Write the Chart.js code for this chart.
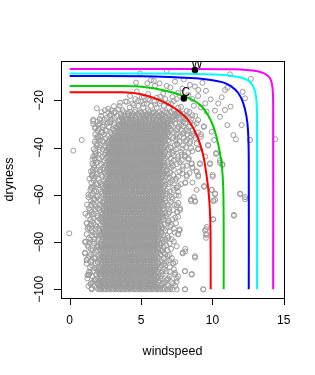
<!DOCTYPE html>
<html>
<head>
<meta charset="utf-8">
<script src="https://cdn.jsdelivr.net/npm/chart.js@4/dist/chart.umd.min.js"></script>
<style>
  html, body { margin: 0; padding: 0; background: #fff; }
  canvas { display: block; }
</style>
</head>
<body>
<canvas id="chart" width="315" height="375"></canvas>
<script>
// axis ticks and titles
const xTicks = [0, 5, 10, 15];
const yTicks = [-100, -80, -60, -40, -20];
const xTitle = 'windspeed';
const yTitle = 'dryness';

// marked points
const markLabels = ['W', 'C'];
const markWind = [8.78, 8.0];
const markDry = [-7.2, -19.2];

// contour curves (windspeed / dryness pairs)
const curveColors = ['#ff0000', '#00cd00', '#0000ff', '#00ffff', '#ff00ff'];
const redWind = [0, 3.6, 4.3, 5.0, 5.6, 6.3, 7.0, 7.6, 8.1, 8.45, 8.75, 9.05, 9.35, 9.55, 9.72, 9.82, 9.87, 9.88];
const redDry = [-16.6, -16.6, -16.8, -17.4, -18.4, -19.9, -22.0, -24.4, -27.0, -29.6, -32.8, -37.0, -43.0, -50.0, -58.0, -66.0, -76.0, -100];
const greenWind = [0, 3.6, 4.7, 5.6, 6.3, 7.0, 7.7, 8.3, 8.75, 9.1, 9.5, 9.85, 10.15, 10.42, 10.65, 10.76, 10.79, 10.79];
const greenDry = [-13.95, -13.95, -14.1, -14.7, -15.4, -16.4, -17.6, -19.0, -20.3, -21.8, -24.5, -28.0, -32.5, -39.0, -47.0, -57.0, -70.0, -100];
const blueWind = [0, 5, 7, 8.5, 9.5, 10.3, 10.8, 11.3, 11.8, 12.15, 12.38, 12.5, 12.55, 12.55];
const blueDry = [-9.7, -9.8, -10.1, -10.6, -11.1, -11.8, -12.5, -14.0, -16.8, -21.0, -26.5, -33.0, -45.0, -100];
const cyanWind = [0, 6, 9, 10.5, 11.5, 12.1, 12.5, 12.8, 13.0, 13.1, 13.13, 13.13];
const cyanDry = [-8.7, -8.7, -8.9, -9.2, -9.8, -10.6, -11.6, -13.5, -16.5, -21.0, -28.0, -100];
const magentaWind = [0, 8, 11.5, 12.6, 13.3, 13.8, 14.1, 14.22, 14.26, 14.26];
const magentaDry = [-6.75, -6.8, -6.9, -7.3, -7.9, -9.2, -11.5, -15.0, -21.0, -100];

// scattered observations outside the dense column
const looseWind = [0.84, 0.25, -0.03, 1.9, 2.47, 2.7, 2.94, 3.41, 3.53, 4.0, 3.1, 4.5, 4.8, 5.2, 5.6, 6.0, 6.4, 6.9, 7.3,
  4.23, 4.7, 5.05, 5.5, 6.1, 6.55, 7.2, 7.6, 8.3, 8.6, 9.0, 9.88, 10.65, 9.5, 10.41, 9.2, 8.7, 7.8, 8.2, 7.5, 8.0, 8.6,
  9.0, 9.6, 10.18, 10.88, 11.28, 10.53, 9.4, 9.95, 10.12, 11.05, 12.05, 11.47, 11.65, 12.64, 14.4, 12.29, 12.12, 11.05,
  10.89, 9.55, 9.01, 8.78, 8.43, 7.9, 7.38, 7.05, 6.8, 6.3, 5.98, 5.7, 5.44, 4.65, 5.9, 4.93, 6.8, 11.23, 12.7, 8.0, 9.3,
  8.08, 8.55, 8.9, 9.01, 8.2, 8.1, 7.6, 7.73, 8.5, 8.78, 9.95, 10.2, 9.13, 9.83, 10.53, 10.7, 10.26, 10.02, 9.42, 10.19,
  10.07, 11.94, 12.29, 11.51, 10.06, 9.55, 9.55, 8.78, 8.55, 9.36, 8.08, 8.08, 7.5, 7.38, 7.92, 8.1, 7.26, 7.6, 7.7, 7.54,
  8.6, 7.9, 8.4, 9.0, 8.7, 9.2, 8.3, 9.7, 1.07, 1.19, 1.31, 1.24, 1.54, 1.19, 1.6, 1.55, 1.3, 1.1, 1.07, 1.65, 1.78, 2.13, 1.65];
const looseDry = [-36.8, -41.3, -76.3, -23.4, -24.2, -23.6, -24.4, -23.8, -21.0, -20.6, -22.5, -22.0, -20.2, -21.5, -20.0, -21.8, -20.5, -21.2, -20.3,
  -18.2, -16.3, -18.8, -17.4, -18.9, -17.2, -18.6, -16.9, -17.8, -19.5, -18.2, -19.6, -18.7, -21.3, -21.3, -23.0, -22.3, -22.8, -24.5, -25.5, -27.0, -26.3,
  -28.4, -24.8, -24.4, -24.1, -22.7, -27.0, -31.0, -33.3, -36.8, -30.5, -30.5, -34.7, -36.5, -36.8, -36.5, -19.2, -16.4, -14.7,
  -15.6, -16.0, -15.6, -14.2, -13.5, -15.0, -12.1, -14.6, -13.9, -12.8, -13.9, -11.5, -12.8, -12.5, -11.7, -8.6, -7.5, -9.0, -10.9, -11.2, -12.6,
  -43.2, -46.7, -50.2, -52.3, -52.3, -55.0, -58.7, -66.4, -62.0, -62.9, -58.0, -62.2, -46.7, -46.7, -46.4, -47.4, -42.7, -52.3, -56.6, -59.7,
  -62.5, -59.7, -61.9, -68.5, -70.4, -74.6, -77.0, -86.6, -93.5, -100, -92.3, -100, -96.8, -93.0, -84.8, -84.0, -89.0, -76.6, -74.6, -67.2,
  -48.5, -40.5, -38.2, -40.5, -35.0, -35.5, -33.0, -39.0, -84.8, -87.6, -94.0, -94.0, -99.6, -72.0, -45.0, -52.0, -60.0, -68.0, -80.0, -30.0, -31.9, -35.4, -28.8];

// thinner fringe on both sides of the column and over its top
const edgeDry = [-97.5, -95.8, -94.5, -92.5, -91.0, -90.0, -88.5, -86.8, -85.5, -83.5, -82.0, -81.8, -80.4, -78.8, -77.2,
  -75.5, -74.4, -72.5, -70.8, -70.0, -69.3, -68.4, -67.8, -66.0, -64.4, -63.0, -62.0, -61.5, -60.4, -58.4, -57.0,
  -55.5, -54.0, -53.0, -52.7, -51.0, -49.4, -48.0, -46.5, -45.0, -44.5, -43.3, -42.8, -41.8, -41.0, -40.2, -38.7,
  -37.2, -35.7, -34.2, -33.5, -32.6, -31.0, -30.5, -29.3, -27.9, -26.8, -26.3, -25.3, -24.2, -23.1, -22.4, -21.4,
  -20.5, -19.5, -18.5];
const edgeWind = [
  [1.5, 1.95, 6.55, 7.25], [1.75, 6.85], [6.4, 7.6], [1.35, 2.0, 6.5, 7.0], [1.72], [6.7], [1.5, 1.98, 6.35, 7.4],
  [1.28, 1.8, 6.6], [7.0], [1.62, 6.5, 6.85], [1.9], [7.5], [1.38, 6.45], [1.72, 6.7, 7.15], [1.55, 2.05, 6.55],
  [7.0], [1.25, 1.82, 6.45, 7.3], [1.5, 6.65], [6.9], [1.7, 2.15], [6.55, 7.6], [1.55], [6.7], [1.8, 6.95],
  [1.5, 2.1, 6.6, 7.5], [7.1], [1.68], [6.7], [1.95, 7.0, 7.65], [1.72, 6.8], [1.5, 7.25],
  [1.85, 2.28, 6.9], [7.4], [1.7], [7.0], [1.9, 6.85, 7.9], [1.62, 2.15, 7.3], [6.9, 7.95], [1.85, 7.15], [7.6, 8.3],
  [2.05], [7.3], [1.78], [7.8], [2.1], [7.1, 8.5], [1.95, 7.55],
  [2.3, 8.1], [1.88, 7.5], [7.9, 8.6], [2.2], [2.5, 7.45], [8.0], [2.0], [2.35, 2.8, 7.7, 8.45],
  [2.1, 8.1], [3.6, 4.4, 5.35, 6.3, 7.25], [7.6], [3.1, 4.1, 5.0, 5.85, 6.8, 7.7], [3.7, 4.6, 5.5, 6.5, 7.3],
  [4.2, 5.15, 6.1, 6.95, 7.6], [3.5, 4.8, 5.7, 6.6], [4.4, 5.4, 6.3, 7.1],
  [3.9, 5.0, 5.95], [4.6, 5.5, 6.7, 7.5], [5.2, 6.35]
];

// dense column: one dryness level per row with the windspeeds seen on it
const rowDry = [-100, -98.6, -97.0, -95.4, -93.8, -92.3, -90.7, -89.1, -87.6, -86.0, -84.5, -82.9, -81.4, -79.8, -78.2,
  -76.7, -75.1, -73.6, -72.0, -70.4, -68.9, -67.3, -65.7, -64.2, -62.6, -61.0, -59.5, -57.9, -56.3, -54.8, -53.2,
  -51.6, -50.1, -48.5, -47.0, -45.4, -43.8, -42.3, -40.7, -39.1, -37.6, -36.0, -34.4, -32.9, -31.3, -29.7, -28.2, -26.6, -25.0];
const rowWind = [
  [1.54, 2.0, 2.16, 2.35, 2.52, 2.7, 2.89, 3.06, 3.25, 3.42, 3.61, 3.78, 3.97, 4.14, 4.33, 4.5, 4.69, 4.86, 5.05, 5.22, 5.41, 5.58, 5.77, 5.94, 6.13, 6.3, 6.49, 6.66, 6.85, 7.02, 7.21, 7.5, 8.08, 9.36],
  [1.31, 1.72, 2.12, 2.31, 2.58, 2.77, 3.05, 3.22, 3.47, 3.66, 3.92, 4.08, 4.35, 4.51, 4.79, 4.97, 5.18, 5.44, 5.62, 5.9, 6.05, 6.41, 6.93, 7.4],
  [1.62, 2.04, 2.25, 2.5, 2.68, 2.95, 3.13, 3.39, 3.55, 3.81, 4.0, 4.21, 4.47, 4.64, 4.9, 5.07, 5.33, 5.5, 5.77, 5.95, 6.22, 6.68, 7.13],
  [1.24, 1.95, 2.19, 2.43, 2.61, 2.86, 3.09, 3.27, 3.52, 3.7, 3.96, 4.14, 4.38, 4.59, 4.8, 5.04, 5.21, 5.47, 5.66, 5.88, 6.12, 6.37, 6.9, 7.5],
  [1.35, 1.86, 2.1, 2.36, 2.53, 2.8, 2.98, 3.22, 3.43, 3.63, 3.88, 4.06, 4.3, 4.49, 4.74, 4.93, 5.15, 5.39, 5.57, 5.83, 6.01, 6.52, 7.38, 8.55],
  [1.66, 2.23, 2.47, 2.66, 2.91, 3.1, 3.35, 3.53, 3.78, 3.97, 4.21, 4.4, 4.65, 4.83, 5.08, 5.27, 5.51, 5.7, 5.94, 6.16, 6.79, 8.08],
  [1.43, 1.99, 2.17, 2.42, 2.6, 2.85, 3.04, 3.28, 3.47, 3.72, 3.9, 4.15, 4.34, 4.58, 4.77, 5.02, 5.2, 5.45, 5.64, 5.88, 6.07, 6.31, 7.02],
  [1.19, 1.81, 2.31, 2.5, 2.74, 2.94, 3.18, 3.37, 3.61, 3.8, 4.05, 4.24, 4.48, 4.67, 4.92, 5.11, 5.35, 5.54, 5.78, 5.97, 6.22, 6.63, 7.26],
  [1.19, 1.56, 2.13, 2.37, 2.56, 2.8, 3.0, 3.24, 3.43, 3.67, 3.86, 4.1, 4.3, 4.54, 4.73, 4.97, 5.16, 5.41, 5.6, 5.84, 6.03, 6.45, 6.96],
  [1.38, 2.02, 2.24, 2.43, 2.68, 2.87, 3.11, 3.3, 3.54, 3.74, 3.98, 4.17, 4.41, 4.6, 4.85, 5.04, 5.28, 5.47, 5.71, 5.9, 6.14, 6.86, 8.78],
  [1.07, 1.7, 2.29, 2.49, 2.72, 2.92, 3.16, 3.35, 3.59, 3.78, 4.03, 4.22, 4.46, 4.65, 4.89, 5.09, 5.33, 5.52, 5.76, 5.95, 6.19, 6.58, 7.92],
  [1.48, 2.07, 2.31, 2.52, 2.76, 2.95, 3.19, 3.38, 3.62, 3.82, 4.06, 4.25, 4.49, 4.68, 4.92, 5.12, 5.36, 5.55, 5.79, 5.98, 6.22, 7.1, 8.1],
  [1.25, 1.95, 2.18, 2.4, 2.63, 2.83, 3.07, 3.26, 3.5, 3.69, 3.93, 4.13, 4.37, 4.56, 4.8, 4.99, 5.23, 5.43, 5.67, 5.86, 6.1, 6.36, 6.78],
  [1.12, 1.62, 2.26, 2.47, 2.7, 2.9, 3.14, 3.33, 3.57, 3.76, 4.0, 4.2, 4.44, 4.63, 4.87, 5.06, 5.3, 5.5, 5.74, 5.93, 6.17, 6.6, 7.3],
  [1.35, 2.04, 2.34, 2.54, 2.77, 2.97, 3.21, 3.4, 3.64, 3.83, 4.07, 4.27, 4.51, 4.7, 4.94, 5.13, 5.37, 5.57, 5.81, 6.0, 6.24, 6.92, 9.55],
  [1.19, 1.78, 2.21, 2.44, 2.64, 2.88, 3.07, 3.31, 3.51, 3.74, 3.94, 4.18, 4.37, 4.61, 4.81, 5.04, 5.24, 5.48, 5.67, 5.91, 6.11, 6.4, 7.6, 9.6],
  [1.52, 2.12, 2.36, 2.56, 2.79, 2.99, 3.23, 3.42, 3.66, 3.86, 4.09, 4.29, 4.53, 4.72, 4.96, 5.16, 5.39, 5.59, 5.83, 6.02, 6.26, 6.7, 7.7, 9.48],
  [1.3, 1.88, 2.28, 2.52, 2.71, 2.95, 3.15, 3.38, 3.58, 3.82, 4.01, 4.25, 4.45, 4.68, 4.88, 5.12, 5.31, 5.55, 5.75, 5.98, 6.18, 6.48, 7.05, 9.6],
  [1.19, 1.66, 2.39, 2.59, 2.82, 3.02, 3.26, 3.45, 3.69, 3.89, 4.12, 4.32, 4.56, 4.75, 4.99, 5.19, 5.42, 5.62, 5.86, 6.05, 6.29, 6.88, 7.45],
  [1.45, 2.1, 2.33, 2.53, 2.76, 2.96, 3.2, 3.39, 3.63, 3.83, 4.06, 4.26, 4.5, 4.69, 4.93, 5.13, 5.36, 5.56, 5.8, 5.99, 6.23, 6.55, 7.2, 10.06],
  [1.28, 1.92, 2.43, 2.62, 2.86, 3.06, 3.29, 3.49, 3.73, 3.92, 4.16, 4.36, 4.59, 4.79, 5.03, 5.22, 5.46, 5.66, 5.89, 6.09, 6.33, 6.76, 11.51],
  [1.55, 2.2, 2.46, 2.65, 2.89, 3.09, 3.32, 3.52, 3.76, 3.95, 4.19, 4.39, 4.62, 4.82, 5.06, 5.25, 5.49, 5.69, 5.92, 6.12, 6.36, 7.0, 7.54],
  [1.35, 1.98, 2.38, 2.58, 2.81, 3.01, 3.25, 3.44, 3.68, 3.88, 4.11, 4.31, 4.55, 4.74, 4.98, 5.18, 5.41, 5.61, 5.85, 6.04, 6.28, 6.6, 7.73],
  [1.22, 1.75, 2.49, 2.69, 2.92, 3.12, 3.36, 3.55, 3.79, 3.99, 4.22, 4.42, 4.66, 4.85, 5.09, 5.29, 5.52, 5.72, 5.96, 6.15, 6.39, 6.95, 7.35],
  [1.5, 2.15, 2.41, 2.61, 2.84, 3.04, 3.28, 3.47, 3.71, 3.91, 4.14, 4.34, 4.58, 4.77, 5.01, 5.21, 5.44, 5.64, 5.88, 6.07, 6.31, 6.7, 8.5, 8.78, 10.07],
  [1.32, 1.9, 2.53, 2.72, 2.96, 3.16, 3.39, 3.59, 3.83, 4.02, 4.26, 4.46, 4.69, 4.89, 5.13, 5.32, 5.56, 5.76, 5.99, 6.19, 6.43, 7.15, 8.7, 12.29],
  [1.62, 2.28, 2.51, 2.7, 2.94, 3.14, 3.37, 3.57, 3.81, 4.0, 4.24, 4.44, 4.67, 4.87, 5.11, 5.3, 5.54, 5.74, 5.97, 6.17, 6.41, 6.82, 10.19, 11.94],
  [1.45, 2.05, 2.57, 2.79, 2.98, 3.22, 3.41, 3.66, 3.84, 4.09, 4.27, 4.53, 4.71, 4.95, 5.14, 5.39, 5.57, 5.82, 6.0, 6.25, 6.47, 7.3, 8.9, 9.95],
  [1.7, 2.3, 2.49, 2.71, 2.93, 3.12, 3.36, 3.57, 3.77, 4.02, 4.2, 4.44, 4.66, 4.85, 5.1, 5.29, 5.52, 5.74, 5.93, 6.17, 6.39, 6.65, 7.6, 9.42],
  [1.52, 2.12, 2.61, 2.8, 3.04, 3.24, 3.47, 3.67, 3.91, 4.1, 4.34, 4.54, 4.77, 4.97, 5.21, 5.4, 5.64, 5.84, 6.07, 6.27, 6.51, 7.05, 8.1, 8.6],
  [1.38, 1.98, 2.54, 2.75, 2.95, 3.19, 3.38, 3.62, 3.82, 4.05, 4.25, 4.49, 4.68, 4.92, 5.12, 5.35, 5.55, 5.79, 5.98, 6.22, 6.44, 6.9, 7.45],
  [1.6, 2.22, 2.65, 2.84, 3.08, 3.28, 3.51, 3.71, 3.95, 4.14, 4.38, 4.58, 4.81, 5.01, 5.25, 5.44, 5.68, 5.88, 6.11, 6.31, 6.55, 7.25, 8.2, 9.01, 10.02],
  [1.48, 2.08, 2.58, 2.77, 3.01, 3.21, 3.44, 3.64, 3.88, 4.07, 4.31, 4.51, 4.74, 4.94, 5.18, 5.37, 5.61, 5.81, 6.04, 6.24, 6.48, 6.75, 7.7, 8.9],
  [1.72, 2.35, 2.68, 2.87, 3.11, 3.31, 3.54, 3.74, 3.98, 4.17, 4.41, 4.61, 4.84, 5.04, 5.28, 5.47, 5.71, 5.91, 6.14, 6.34, 6.58, 7.1, 8.6],
  [1.6, 2.2, 2.61, 2.8, 3.04, 3.24, 3.47, 3.67, 3.91, 4.1, 4.34, 4.54, 4.77, 4.97, 5.21, 5.4, 5.64, 5.84, 6.07, 6.27, 6.51, 6.95, 7.5, 8.55, 9.13, 9.83, 10.7],
  [1.78, 2.42, 2.71, 2.91, 3.15, 3.34, 3.58, 3.78, 4.01, 4.21, 4.45, 4.64, 4.88, 5.08, 5.31, 5.51, 5.75, 5.94, 6.18, 6.38, 6.61, 7.3, 7.85, 10.53],
  [1.65, 2.28, 2.64, 2.83, 3.07, 3.27, 3.5, 3.7, 3.94, 4.13, 4.37, 4.57, 4.8, 5.0, 5.24, 5.43, 5.67, 5.87, 6.1, 6.3, 6.54, 6.85, 7.6, 8.08, 9.5],
  [1.85, 2.5, 2.75, 2.94, 3.18, 3.38, 3.61, 3.81, 4.05, 4.24, 4.48, 4.68, 4.91, 5.11, 5.35, 5.54, 5.78, 5.98, 6.21, 6.41, 6.65, 7.2, 8.3, 10.26],
  [1.68, 2.3, 2.68, 2.87, 3.11, 3.31, 3.54, 3.74, 3.98, 4.17, 4.41, 4.61, 4.84, 5.04, 5.28, 5.47, 5.71, 5.91, 6.14, 6.34, 6.58, 6.9, 7.45, 9.0],
  [1.9, 2.45, 2.79, 2.98, 3.22, 3.42, 3.65, 3.85, 4.09, 4.28, 4.52, 4.72, 4.95, 5.15, 5.39, 5.58, 5.82, 6.02, 6.25, 6.45, 6.69, 7.35, 7.95, 9.7],
  [1.75, 2.35, 2.73, 2.92, 3.16, 3.36, 3.59, 3.79, 4.03, 4.22, 4.46, 4.66, 4.89, 5.09, 5.33, 5.52, 5.76, 5.96, 6.19, 6.39, 6.63, 6.95, 7.7, 8.45],
  [2.0, 2.55, 2.86, 3.05, 3.29, 3.49, 3.72, 3.92, 4.16, 4.35, 4.59, 4.79, 5.02, 5.22, 5.46, 5.65, 5.89, 6.09, 6.32, 6.52, 6.76, 7.25, 8.0, 8.8],
  [1.8, 2.4, 2.96, 3.15, 3.39, 3.59, 3.82, 4.02, 4.26, 4.45, 4.69, 4.89, 5.12, 5.32, 5.56, 5.75, 5.99, 6.19, 6.42, 6.62, 6.86, 7.5, 8.25, 9.2],
  [1.95, 2.6, 3.1, 3.34, 3.54, 3.77, 3.97, 4.21, 4.4, 4.64, 4.84, 5.07, 5.27, 5.51, 5.7, 5.94, 6.14, 6.37, 6.57, 6.81, 7.1, 7.85, 8.6],
  [1.78, 2.3, 2.76, 3.26, 3.49, 3.69, 3.93, 4.12, 4.36, 4.56, 4.79, 4.99, 5.23, 5.42, 5.66, 5.86, 6.09, 6.29, 6.53, 6.74, 6.96, 7.6, 8.35, 9.4],
  [2.1, 2.65, 3.16, 3.59, 3.79, 4.03, 4.22, 4.46, 4.66, 4.89, 5.09, 5.33, 5.52, 5.76, 5.96, 6.19, 6.39, 6.63, 6.82, 7.06, 7.4, 8.1, 8.9],
  [1.65, 2.45, 2.95, 3.5, 3.72, 3.95, 4.2, 4.42, 4.65, 4.9, 5.12, 5.35, 5.6, 5.82, 6.05, 6.3, 6.52, 6.75, 7.0, 7.3, 7.75, 8.5],
  [2.2, 2.8, 3.3, 3.85, 4.1, 4.35, 4.6, 4.88, 5.15, 5.4, 5.65, 5.92, 6.2, 6.45, 6.7, 7.0, 7.45, 8.15, 8.8],
  [2.24, 2.7, 3.2, 3.8, 4.25, 4.55, 4.95, 5.25, 5.6, 5.9, 6.3, 6.65, 7.1, 7.6, 8.4]
];

// second set of levels lying between the rows above
const midDry = [-99.3, -97.8, -96.2, -94.6, -93.0, -91.5, -89.9, -88.4, -86.8, -85.2, -83.7, -82.1, -80.6, -79.0,
  -77.4, -75.9, -74.3, -72.8, -71.2, -69.6, -68.1, -66.5, -64.9, -63.4, -61.8, -60.2, -58.7, -57.1, -55.5, -54.0,
  -52.4, -50.8, -49.3, -47.7, -46.2, -44.6, -43.0, -41.5, -39.9, -38.3, -36.8, -35.2, -33.6, -32.1, -30.5, -28.9, -27.4, -25.8];
const midWind = [
  [1.9, 2.08, 2.27, 2.44, 2.66, 2.83, 3.0, 3.2, 3.36, 3.55, 3.74, 3.9, 4.12, 4.27, 4.45, 4.63, 4.84, 5.0, 5.16, 5.36, 5.53, 5.72, 5.87, 6.08, 6.27, 6.6, 7.05],
  [1.45, 2.15, 2.36, 2.55, 2.79, 2.9, 3.11, 3.3, 3.48, 3.7, 3.86, 4.04, 4.28, 4.4, 4.6, 4.82, 4.98, 5.14, 5.39, 5.55, 5.69, 5.92, 6.1, 6.46],
  [1.82, 2.06, 2.3, 2.5, 2.72, 2.95, 3.18, 3.37, 3.6, 3.8, 4.05, 4.25, 4.5, 4.7, 4.92, 5.12, 5.35, 5.57, 5.78, 6.0, 6.23, 6.78],
  [1.6, 2.22, 2.46, 2.68, 2.88, 3.11, 3.32, 3.54, 3.76, 3.99, 4.2, 4.41, 4.62, 4.86, 5.05, 5.27, 5.49, 5.72, 5.94, 6.18, 7.0],
  [1.42, 2.0, 2.18, 2.4, 2.6, 2.84, 3.04, 3.26, 3.47, 3.69, 3.9, 4.12, 4.34, 4.55, 4.77, 4.98, 5.2, 5.42, 5.63, 5.85, 6.07, 6.4],
  [1.88, 2.12, 2.34, 2.55, 2.76, 2.99, 3.2, 3.41, 3.62, 3.84, 4.06, 4.28, 4.49, 4.7, 4.92, 5.14, 5.36, 5.58, 5.78, 6.0, 6.25, 6.6, 7.3],
  [1.55, 2.22, 2.42, 2.63, 2.86, 3.07, 3.29, 3.5, 3.72, 3.93, 4.15, 4.37, 4.58, 4.8, 5.01, 5.23, 5.45, 5.66, 5.88, 6.1, 6.45],
  [1.95, 2.22, 2.46, 2.66, 2.89, 3.1, 3.31, 3.53, 3.75, 3.96, 4.18, 4.39, 4.61, 4.83, 5.04, 5.26, 5.47, 5.69, 5.9, 6.12, 6.8],
  [1.7, 2.1, 2.33, 2.55, 2.75, 2.98, 3.19, 3.4, 3.62, 3.84, 4.05, 4.27, 4.48, 4.7, 4.91, 5.13, 5.35, 5.56, 5.78, 6.0, 6.25, 7.15],
  [1.5, 2.15, 2.4, 2.6, 2.82, 3.03, 3.25, 3.46, 3.68, 3.9, 4.11, 4.33, 4.54, 4.76, 4.98, 5.19, 5.41, 5.62, 5.84, 6.06, 6.35, 6.7],
  [1.85, 2.2, 2.42, 2.63, 2.85, 3.06, 3.28, 3.49, 3.71, 3.93, 4.14, 4.36, 4.57, 4.79, 5.0, 5.22, 5.44, 5.65, 5.87, 6.08, 6.4],
  [1.32, 2.0, 2.28, 2.5, 2.71, 2.93, 3.14, 3.36, 3.57, 3.79, 4.0, 4.22, 4.44, 4.65, 4.87, 5.08, 5.3, 5.51, 5.73, 5.95, 6.16, 6.6],
  [1.72, 2.16, 2.37, 2.58, 2.8, 3.02, 3.23, 3.45, 3.66, 3.88, 4.09, 4.31, 4.53, 4.74, 4.96, 5.17, 5.39, 5.6, 5.82, 6.04, 6.3, 7.0],
  [1.45, 2.0, 2.3, 2.52, 2.74, 2.95, 3.17, 3.38, 3.6, 3.81, 4.03, 4.25, 4.46, 4.68, 4.89, 5.11, 5.32, 5.54, 5.76, 5.97, 6.2, 6.5],
  [1.9, 2.2, 2.4, 2.62, 2.84, 3.05, 3.27, 3.48, 3.7, 3.91, 4.13, 4.35, 4.56, 4.78, 4.99, 5.21, 5.42, 5.64, 5.86, 6.07, 6.3, 6.85],
  [1.62, 2.26, 2.47, 2.69, 2.9, 3.12, 3.33, 3.55, 3.77, 3.98, 4.2, 4.41, 4.63, 4.84, 5.06, 5.28, 5.49, 5.71, 5.92, 6.14, 6.42, 7.35],
  [1.4, 2.02, 2.32, 2.54, 2.75, 2.97, 3.18, 3.4, 3.62, 3.83, 4.05, 4.26, 4.48, 4.69, 4.91, 5.13, 5.34, 5.56, 5.77, 5.99, 6.22, 6.6],
  [1.8, 2.18, 2.44, 2.65, 2.87, 3.08, 3.3, 3.51, 3.73, 3.95, 4.16, 4.38, 4.59, 4.81, 5.02, 5.24, 5.46, 5.67, 5.89, 6.1, 6.38, 7.1],
  [1.58, 2.25, 2.49, 2.7, 2.92, 3.14, 3.35, 3.57, 3.78, 4.0, 4.21, 4.43, 4.65, 4.86, 5.08, 5.29, 5.51, 5.72, 5.94, 6.16, 6.4, 6.95],
  [1.95, 2.26, 2.54, 2.75, 2.97, 3.18, 3.4, 3.61, 3.83, 4.05, 4.26, 4.48, 4.69, 4.91, 5.12, 5.34, 5.56, 5.77, 5.99, 6.2, 6.45, 7.4],
  [1.68, 2.32, 2.55, 2.77, 2.98, 3.2, 3.41, 3.63, 3.85, 4.06, 4.28, 4.49, 4.71, 4.92, 5.14, 5.36, 5.57, 5.79, 6.0, 6.22, 6.48, 6.9],
  [1.42, 2.08, 2.36, 2.6, 2.82, 3.03, 3.25, 3.46, 3.68, 3.9, 4.11, 4.33, 4.54, 4.76, 4.97, 5.19, 5.41, 5.62, 5.84, 6.05, 6.27, 6.52, 7.25],
  [1.85, 2.28, 2.52, 2.75, 2.96, 3.18, 3.39, 3.61, 3.82, 4.04, 4.26, 4.47, 4.69, 4.9, 5.12, 5.33, 5.55, 5.77, 5.98, 6.2, 6.45, 6.85],
  [1.62, 2.32, 2.6, 2.81, 3.03, 3.24, 3.46, 3.67, 3.89, 4.1, 4.32, 4.54, 4.75, 4.97, 5.18, 5.4, 5.62, 5.83, 6.05, 6.27, 6.5, 7.6],
  [1.75, 2.05, 2.52, 2.72, 2.94, 3.15, 3.37, 3.58, 3.8, 4.02, 4.23, 4.45, 4.66, 4.88, 5.09, 5.31, 5.53, 5.74, 5.96, 6.17, 6.4, 6.6, 7.2],
  [1.48, 2.38, 2.62, 2.84, 3.05, 3.27, 3.48, 3.7, 3.92, 4.13, 4.35, 4.56, 4.78, 4.99, 5.21, 5.42, 5.64, 5.86, 6.07, 6.29, 6.52, 7.45],
  [1.88, 2.2, 2.45, 2.68, 2.89, 3.11, 3.32, 3.54, 3.75, 3.97, 4.19, 4.4, 4.62, 4.83, 5.05, 5.26, 5.48, 5.7, 5.91, 6.13, 6.35, 6.58, 7.0],
  [1.58, 2.4, 2.65, 2.87, 3.08, 3.3, 3.51, 3.73, 3.94, 4.16, 4.38, 4.59, 4.81, 5.02, 5.24, 5.45, 5.67, 5.89, 6.1, 6.32, 6.55, 7.5],
  [1.92, 2.25, 2.52, 2.74, 2.95, 3.17, 3.38, 3.6, 3.82, 4.03, 4.25, 4.46, 4.68, 4.89, 5.11, 5.33, 5.54, 5.76, 5.97, 6.19, 6.42, 6.7, 7.8],
  [1.68, 2.42, 2.68, 2.9, 3.11, 3.33, 3.54, 3.76, 3.97, 4.19, 4.41, 4.62, 4.84, 5.05, 5.27, 5.48, 5.7, 5.92, 6.13, 6.35, 6.6, 7.2],
  [1.82, 2.3, 2.58, 2.8, 3.01, 3.23, 3.44, 3.66, 3.88, 4.09, 4.31, 4.52, 4.74, 4.95, 5.17, 5.39, 5.6, 5.82, 6.03, 6.25, 6.48, 6.72, 7.6],
  [1.62, 2.45, 2.72, 2.93, 3.15, 3.36, 3.58, 3.79, 4.01, 4.23, 4.44, 4.66, 4.87, 5.09, 5.3, 5.52, 5.74, 5.95, 6.17, 6.38, 6.62, 7.05, 8.4],
  [1.9, 2.4, 2.62, 2.84, 3.05, 3.27, 3.49, 3.7, 3.92, 4.13, 4.35, 4.56, 4.78, 5.0, 5.21, 5.43, 5.64, 5.86, 6.07, 6.29, 6.52, 6.8, 7.9],
  [1.7, 2.5, 2.75, 2.96, 3.18, 3.4, 3.61, 3.83, 4.04, 4.26, 4.47, 4.69, 4.91, 5.12, 5.34, 5.55, 5.77, 5.98, 6.2, 6.42, 6.65, 7.25, 8.2],
  [1.95, 2.35, 2.66, 2.87, 3.09, 3.3, 3.52, 3.74, 3.95, 4.17, 4.38, 4.6, 4.81, 5.03, 5.25, 5.46, 5.68, 5.89, 6.11, 6.32, 6.56, 6.85, 7.7],
  [1.75, 2.55, 2.78, 3.0, 3.21, 3.43, 3.64, 3.86, 4.07, 4.29, 4.51, 4.72, 4.94, 5.15, 5.37, 5.58, 5.8, 6.02, 6.23, 6.45, 6.68, 7.1, 8.35],
  [2.02, 2.45, 2.7, 2.91, 3.13, 3.34, 3.56, 3.77, 3.99, 4.2, 4.42, 4.64, 4.85, 5.07, 5.28, 5.5, 5.71, 5.93, 6.15, 6.36, 6.6, 6.95, 7.85],
  [1.78, 2.58, 2.81, 3.02, 3.24, 3.46, 3.67, 3.89, 4.1, 4.32, 4.53, 4.75, 4.96, 5.18, 5.4, 5.61, 5.83, 6.04, 6.26, 6.47, 6.7, 7.3, 8.6],
  [2.08, 2.5, 2.72, 2.94, 3.15, 3.37, 3.58, 3.8, 4.02, 4.23, 4.45, 4.66, 4.88, 5.09, 5.31, 5.53, 5.74, 5.96, 6.17, 6.39, 6.62, 7.05, 8.15],
  [1.85, 2.62, 2.85, 3.06, 3.28, 3.49, 3.71, 3.93, 4.14, 4.36, 4.57, 4.79, 5.0, 5.22, 5.44, 5.65, 5.87, 6.08, 6.3, 6.51, 6.75, 7.5, 8.9],
  [2.15, 2.78, 2.98, 3.2, 3.41, 3.63, 3.84, 4.06, 4.27, 4.49, 4.71, 4.92, 5.14, 5.35, 5.57, 5.78, 6.0, 6.22, 6.43, 6.65, 6.9, 7.4, 8.2],
  [1.98, 2.7, 3.04, 3.25, 3.47, 3.68, 3.9, 4.11, 4.33, 4.55, 4.76, 4.98, 5.19, 5.41, 5.62, 5.84, 6.06, 6.27, 6.49, 6.7, 6.95, 7.7, 8.5],
  [2.3, 2.9, 3.22, 3.43, 3.65, 3.86, 4.08, 4.29, 4.51, 4.73, 4.94, 5.16, 5.37, 5.59, 5.8, 6.02, 6.24, 6.45, 6.67, 6.9, 7.3, 8.0, 9.0],
  [2.05, 3.0, 3.36, 3.58, 3.79, 4.01, 4.22, 4.44, 4.66, 4.87, 5.09, 5.3, 5.52, 5.73, 5.95, 6.17, 6.38, 6.6, 6.82, 7.05, 7.55, 8.2],
  [2.4, 3.1, 3.45, 3.7, 3.92, 4.15, 4.38, 4.6, 4.83, 5.05, 5.28, 5.5, 5.73, 5.95, 6.18, 6.4, 6.63, 6.85, 7.15, 7.8, 8.7],
  [1.95, 2.85, 3.4, 3.75, 4.0, 4.28, 4.55, 4.8, 5.05, 5.3, 5.58, 5.82, 6.08, 6.35, 6.6, 6.85, 7.2, 7.95],
  [2.6, 3.15, 3.65, 3.98, 4.3, 4.62, 4.95, 5.25, 5.55, 5.85, 6.15, 6.45, 6.8, 7.2, 7.65, 8.35],
  [2.9, 3.6, 4.05, 4.45, 4.8, 5.1, 5.45, 5.8, 6.1, 6.45, 6.9, 7.35, 8.0]
];

const FONT = "'Liberation Sans', Arial, Helvetica, sans-serif";

function pairs(xs, ys) {
    return xs.map((v, i) => ({ x: v, y: ys[i] }));
}

function addRows(target, levels, winds) {
    levels.forEach((d, i) => {
        winds[i].forEach(w => target.push({ x: w, y: d }));
    });
}

const cloudPoints = pairs(looseWind, looseDry);
addRows(cloudPoints, edgeDry, edgeWind);
addRows(cloudPoints, rowDry, rowWind);
addRows(cloudPoints, midDry, midWind);

function curve(xs, ys, color) {
    return {
        data: pairs(xs, ys),
        showLine: true,
        borderColor: color,
        borderWidth: 2,
        pointRadius: 0,
        tension: 0.3,
        fill: false
    };
}

// draws the R-style box, ticks, labels and the W / C text
const rFrame = {
    id: 'rFrame',
    afterDraw(chart) {
        const { ctx, chartArea: a, scales: { x, y } } = chart;
        ctx.save();
        ctx.strokeStyle = '#000';
        ctx.fillStyle = '#000';
        ctx.lineWidth = 1;
        ctx.strokeRect(a.left + 0.5, a.top + 0.5, a.right - a.left, a.bottom - a.top);

        ctx.font = '12px ' + FONT;
        ctx.textAlign = 'center';
        ctx.textBaseline = 'middle';
        ctx.beginPath();
        xTicks.forEach(v => {
            const px = Math.round(x.getPixelForValue(v)) + 0.5;
            ctx.moveTo(px, a.bottom);
            ctx.lineTo(px, a.bottom + 7);
        });
        yTicks.forEach(v => {
            const py = Math.round(y.getPixelForValue(v)) + 0.5;
            ctx.moveTo(a.left - 7, py);
            ctx.lineTo(a.left, py);
        });
        ctx.stroke();

        xTicks.forEach(v => {
            ctx.fillText(String(v), x.getPixelForValue(v), a.bottom + 23);
        });
        yTicks.forEach(v => {
            ctx.save();
            ctx.translate(40, y.getPixelForValue(v));
            ctx.rotate(-Math.PI / 2);
            ctx.fillText(String(v).replace('-', '\u2212'), 0, 0);
            ctx.restore();
        });

        ctx.font = '12.5px ' + FONT;
        ctx.fillText(xTitle, (a.left + a.right) / 2, 352);
        ctx.save();
        ctx.translate(10, (a.top + a.bottom) / 2);
        ctx.rotate(-Math.PI / 2);
        ctx.fillText(yTitle, 0, 0);
        ctx.restore();

        // point labels are clipped to the plot region like in R
        ctx.beginPath();
        ctx.rect(a.left, a.top, a.right - a.left, a.bottom - a.top);
        ctx.clip();
        ctx.font = '12px ' + FONT;
        ctx.textBaseline = 'alphabetic';
        markLabels.forEach((t, i) => {
            ctx.fillText(t, x.getPixelForValue(markWind[i]) + 2, y.getPixelForValue(markDry[i]) - 2.5);
        });
        ctx.restore();
    }
};

new Chart(document.getElementById('chart'), {
    type: 'scatter',
    data: {
        datasets: [
            {
                data: pairs(markWind, markDry),
                pointRadius: 3.3,
                pointBackgroundColor: '#000',
                pointBorderColor: '#000',
                pointBorderWidth: 0
            },
            curve(redWind, redDry, curveColors[0]),
            curve(greenWind, greenDry, curveColors[1]),
            curve(blueWind, blueDry, curveColors[2]),
            curve(cyanWind, cyanDry, curveColors[3]),
            curve(magentaWind, magentaDry, curveColors[4]),
            {
                data: cloudPoints,
                pointRadius: 2.5,
                pointBorderWidth: 1,
                pointBorderColor: '#9a9a9a',
                pointBackgroundColor: 'rgba(0,0,0,0)'
            }
        ]
    },
    options: {
        responsive: false,
        animation: false,
        events: [],
        layout: { padding: { left: 0, top: 61, right: 31, bottom: 0 } },
        plugins: { legend: { display: false }, tooltip: { enabled: false } },
        scales: {
            x: {
                type: 'linear',
                min: -0.61,
                max: 15.02,
                ticks: { display: false },
                grid: { display: false },
                border: { display: false },
                afterFit: s => { s.height = 77; }
            },
            y: {
                type: 'linear',
                min: -103.68,
                max: -3.37,
                ticks: { display: false },
                grid: { display: false },
                border: { display: false },
                afterFit: s => { s.width = 61; }
            }
        }
    },
    plugins: [rFrame]
});
</script>
</body>
</html>
